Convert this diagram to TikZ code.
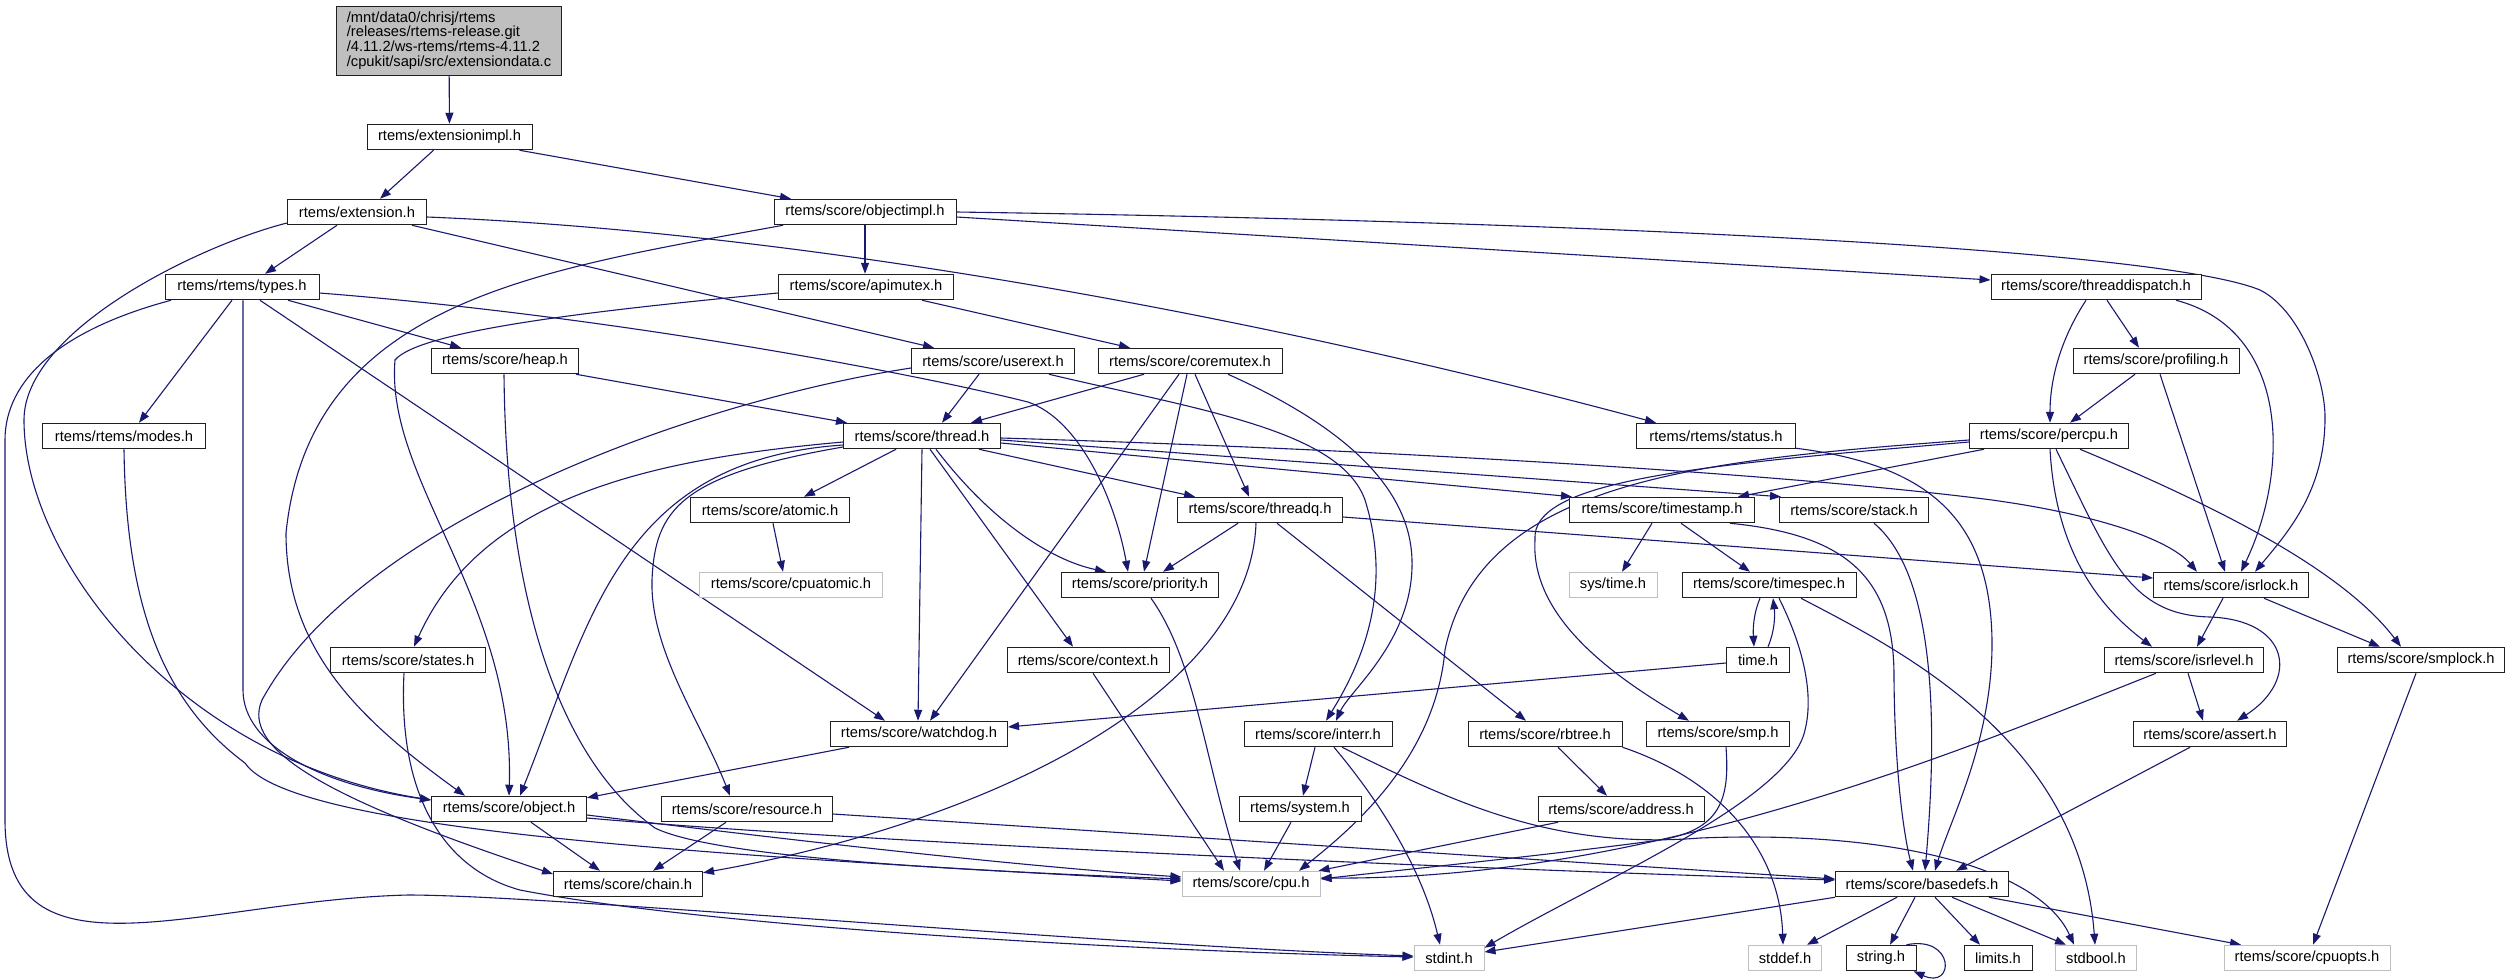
\documentclass[tikz,border=0pt]{standalone}
\usepackage{fontspec}
\setmainfont{Liberation Sans}
\usetikzlibrary{arrows.meta,backgrounds}
\definecolor{edgeblue}{HTML}{191970}
\definecolor{rootgray}{HTML}{BFBFBF}
\definecolor{lightborder}{HTML}{BFBFBF}
\definecolor{nodeborder}{HTML}{202020}
\tikzset{
  box/.style={draw=nodeborder, line width=1pt, fill=white, minimum height=25.5pt, inner xsep=10pt, inner ysep=0pt, font=\fontsize{14.7pt}{14.8pt}\selectfont},
  graybox/.style={box, draw=lightborder},
  dep/.style={draw=edgeblue, line width=1.1pt, -{Triangle[length=11pt,width=8pt]}},
}
\begin{document}
\begin{tikzpicture}[x=1pt,y=-1pt]
\useasboundingbox (0,0) rectangle (2513,978);
% nodes
\node[box, fill=rootgray, align=left, minimum width=222pt, minimum height=69pt] (root) at (449,40.5) {/mnt/data0/chrisj/rtems\\/releases/rtems-release.git\\/4.11.2/ws-rtems/rtems-4.11.2\\/cpukit/sapi/src/extensiondata.c};
\node[box, minimum width=165pt] (extimpl) at (449.5,137) {rtems/extensionimpl.h};
\node[box, minimum width=139pt] (ext) at (357,212) {rtems/extension.h};
\node[box, minimum width=182pt] (objimpl) at (865,212) {rtems/score/objectimpl.h};
\node[box, minimum width=154pt] (types) at (242,287) {rtems/rtems/types.h};
\node[box, minimum width=175pt] (apimutex) at (866,287) {rtems/score/apimutex.h};
\node[box, minimum width=210pt] (tdisp) at (2096,287) {rtems/score/threaddispatch.h};
\node[box, minimum width=147pt] (heap) at (505,361) {rtems/score/heap.h};
\node[box, minimum width=163pt] (userext) at (993,361) {rtems/score/userext.h};
\node[box, minimum width=184pt] (coremutex) at (1190,361) {rtems/score/coremutex.h};
\node[box, minimum width=166pt] (profiling) at (2156,361) {rtems/score/profiling.h};
\node[box, minimum width=163pt] (modes) at (124,436) {rtems/rtems/modes.h};
\node[box, minimum width=157pt] (thread) at (922,436) {rtems/score/thread.h};
\node[box, minimum width=159pt] (status) at (1716,436) {rtems/rtems/status.h};
\node[box, minimum width=159pt] (percpu) at (2049,436) {rtems/score/percpu.h};
\node[box, minimum width=159pt] (atomic) at (770,510) {rtems/score/atomic.h};
\node[box, minimum width=165pt] (threadq) at (1260,510) {rtems/score/threadq.h};
\node[box, minimum width=185pt] (timestamp) at (1662,510) {rtems/score/timestamp.h};
\node[box, minimum width=149pt] (stack) at (1854,510) {rtems/score/stack.h};
\node[graybox, minimum width=183pt] (cpuatomic) at (791,585) {rtems/score/cpuatomic.h};
\node[box, minimum width=157pt] (priority) at (1140,585) {rtems/score/priority.h};
\node[graybox, minimum width=88pt] (systime) at (1613,585) {sys/time.h};
\node[box, minimum width=174pt] (timespec) at (1769,585) {rtems/score/timespec.h};
\node[box, minimum width=154pt] (isrlock) at (2231,585) {rtems/score/isrlock.h};
\node[box, minimum width=155pt] (states) at (408,660) {rtems/score/states.h};
\node[box, minimum width=162pt] (context) at (1088,660) {rtems/score/context.h};
\node[box, minimum width=63pt] (timeh) at (1758,660) {time.h};
\node[box, minimum width=158pt] (isrlevel) at (2184,660) {rtems/score/isrlevel.h};
\node[box, minimum width=167pt] (smplock) at (2421,660) {rtems/score/smplock.h};
\node[box, minimum width=177pt] (watchdog) at (919,734) {rtems/score/watchdog.h};
\node[box, minimum width=148pt] (interr) at (1318,734) {rtems/score/interr.h};
\node[box, minimum width=154pt] (rbtree) at (1545,734) {rtems/score/rbtree.h};
\node[box, minimum width=143pt] (smp) at (1718,734) {rtems/score/smp.h};
\node[box, minimum width=153pt] (assert) at (2210,734) {rtems/score/assert.h};
\node[box, minimum width=155pt] (object) at (509,809) {rtems/score/object.h};
\node[box, minimum width=171pt] (resource) at (747,809) {rtems/score/resource.h};
\node[box, minimum width=122pt] (system) at (1300,809) {rtems/system.h};
\node[box, minimum width=166pt] (address) at (1621,809) {rtems/score/address.h};
\node[box, minimum width=149pt] (chain) at (628,884) {rtems/score/chain.h};
\node[graybox, minimum width=138pt] (cpu) at (1251,884) {rtems/score/cpu.h};
\node[box, minimum width=172pt] (basedefs) at (1922,884) {rtems/score/basedefs.h};
\node[graybox, minimum width=70pt] (stdint) at (1449,958) {stdint.h};
\node[graybox, minimum width=72pt] (stddef) at (1785,958) {stddef.h};
\node[box, minimum width=70pt] (string) at (1881,958) {string.h};
\node[box, minimum width=68pt] (limits) at (1998,958) {limits.h};
\node[graybox, minimum width=81pt] (stdbool) at (2096,958) {stdbool.h};
\node[graybox, minimum width=166pt] (cpuopts) at (2307,958) {rtems/score/cpuopts.h};
\begin{pgfonlayer}{background}
\fill[white] (0,0) rectangle (2513,978);
% root / extension
\draw[dep] (root) -- (extimpl);
\draw[dep] ([xshift=-16pt]extimpl.south) -- ([xshift=23pt]ext.north);
\draw[dep] ([xshift=70pt]extimpl.south) -- ([xshift=-74pt]objimpl.north);
\draw[dep] ([xshift=-20pt]ext.south) -- ([xshift=23pt]types.north);
\draw[dep] ([xshift=55pt]ext.south) -- ([xshift=-59pt]userext.north);
\draw[dep] ([yshift=-5pt]ext.east) .. controls (800,232) and (1256,315) .. ([xshift=-60pt]status.north);
\draw[dep] ([yshift=-11pt]ext.west) .. controls (200,245) and (24,330) .. (24,420) .. controls (24,560) and (180,760) .. ([yshift=9pt]object.west);
% types
\draw[dep] ([xshift=-10pt]types.south) -- ([xshift=15pt]modes.north);
\draw[dep] ([xshift=1pt]types.south) -- (243,690) .. controls (243,745) and (320,785) .. ([yshift=9pt]object.west);
\draw[dep] ([xshift=18pt]types.south) -- ([xshift=-34pt]watchdog.north);
\draw[dep] ([xshift=46pt]types.south) -- ([xshift=-44pt]heap.north);
\draw[dep] ([yshift=-6pt]types.east) .. controls (600,315) and (900,370) .. (1028,402) .. controls (1080,420) and (1115,500) .. ([xshift=-12pt]priority.north);
\draw[dep] ([xshift=-71pt]types.south) .. controls (60,330) and (5,380) .. (5,440) -- (5,820) .. controls (5,990) and (200,900) .. (408,895) .. controls (550,895) and (1100,945) .. ([yshift=2pt]stdint.west);
\draw[dep] ([xshift=-4pt]states.south) .. controls (398,790) and (440,868) .. (520,890) .. controls (700,925) and (1100,950) .. ([yshift=1pt]stdint.west);
% heap, modes
\draw[dep] ([xshift=-3pt]heap.south east) -- ([xshift=4pt]thread.north west);
\draw[dep] ([xshift=-1pt]heap.south) .. controls (506,600) and (560,760) .. (655,828) .. controls (720,860) and (1000,872) .. ([yshift=5pt]cpu.west);
\draw[dep] (modes.south) .. controls (126,600) and (160,700) .. (245,763) .. controls (290,830) and (700,855) .. ([yshift=3pt]cpu.west);
% object, resource
\draw[dep] ([xshift=22pt]object.south) -- ([xshift=-28pt]chain.north);
\draw[dep] ([yshift=-6pt]object.east) .. controls (750,835) and (1000,865) .. ([yshift=7pt]cpu.west);
\draw[dep] ([yshift=-9pt]object.east) .. controls (900,845) and (1500,870) .. ([yshift=4pt]basedefs.west);
\draw[dep] ([yshift=-5pt]resource.east) -- ([yshift=5pt]basedefs.west);
\draw[dep] ([xshift=-21pt]resource.south) -- ([xshift=25pt]chain.north);
% userext
\draw[dep] ([yshift=-7pt]userext.west) .. controls (700,400) and (360,520) .. (262,700) .. controls (240,750) and (330,800) .. ([yshift=10pt]chain.west);
\draw[dep] ([xshift=-14pt]userext.south) -- ([xshift=20pt]thread.north);
\draw[dep] ([xshift=56pt]userext.south) .. controls (1200,410) and (1340,430) .. (1365,500) .. controls (1390,580) and (1370,650) .. ([xshift=8pt]interr.north);
% coremutex, apimutex
\draw[dep] ([xshift=-46pt]coremutex.south) -- ([xshift=49pt]thread.north);
\draw[dep] ([xshift=-11pt]coremutex.south) -- ([xshift=11pt]watchdog.north);
\draw[dep] ([xshift=-3pt]coremutex.south) -- ([xshift=4pt]priority.north);
\draw[dep] ([xshift=5pt]coremutex.south) -- ([xshift=-11pt]threadq.north);
\draw[dep] ([xshift=38pt]coremutex.south) .. controls (1330,420) and (1410,480) .. (1412,560) .. controls (1414,640) and (1350,690) .. ([xshift=18pt]interr.north);
\draw[dep] ([xshift=56pt]apimutex.south) -- ([xshift=-60pt]coremutex.north);
\draw[dep] ([yshift=-6pt]apimutex.west) .. controls (600,310) and (420,330) .. (395,360) .. controls (385,480) and (515,600) .. (object.north);
% objimpl
\draw[dep] (objimpl.south) -- ([xshift=-1pt]apimutex.north);
\draw[dep] ([xshift=-82pt]objimpl.south) .. controls (540,270) and (310,300) .. (286,533) .. controls (286,650) and (360,720) .. ([xshift=-44pt]object.north);
\draw[dep] ([yshift=-5pt]objimpl.east) -- ([yshift=7pt]tdisp.west);
\draw[dep] (objimpl.east) .. controls (1500,220) and (2150,245) .. (2260,290) .. controls (2300,310) and (2326,380) .. (2325,420) .. controls (2324,490) and (2290,530) .. ([xshift=24pt]isrlock.north);
% thread
\draw[dep] ([yshift=-6pt]thread.west) .. controls (640,460) and (480,500) .. ([xshift=6pt]states.north);
\draw[dep] ([yshift=-9pt]thread.west) .. controls (620,460) and (590,620) .. ([xshift=11pt]object.north);
\draw[dep] ([yshift=-11pt]thread.west) .. controls (680,475) and (655,510) .. (652,580) .. controls (650,650) and (700,720) .. ([xshift=-17pt]resource.north);
\draw[dep] ([xshift=-26pt]thread.south) -- ([xshift=34pt]atomic.north);
\draw[dep] (thread.south) -- ([xshift=-1pt]watchdog.north);
\draw[dep] ([xshift=8pt]thread.south) -- ([xshift=-15pt]context.north);
\draw[dep] ([xshift=14pt]thread.south) .. controls (990,520) and (1050,560) .. ([xshift=-34pt]priority.north);
\draw[dep] ([xshift=57pt]thread.south) -- ([xshift=-65pt]threadq.north);
\draw[dep] ([yshift=-7pt]thread.east) -- ([xshift=3pt]timestamp.north west);
\draw[dep] ([yshift=-4pt]thread.east) -- ([xshift=2pt]stack.north west);
\draw[dep] ([yshift=-2pt]thread.east) .. controls (1400,450) and (1800,475) .. (1992,500) .. controls (2100,515) and (2170,540) .. ([xshift=-34pt]isrlock.north);
% threadq
\draw[dep] ([xshift=-22pt]threadq.south) -- ([xshift=23pt]priority.north);
\draw[dep] ([yshift=-7pt]threadq.east) -- ([yshift=7pt]isrlock.west);
\draw[dep] ([xshift=17pt]threadq.south) -- ([xshift=-19pt]rbtree.north);
\draw[dep] ([xshift=-4pt]threadq.south) .. controls (1250,690) and (1000,820) .. ([yshift=-2pt]chain.north east);
% timestamp, stack, status
\draw[dep] ([xshift=-10pt]timestamp.south) -- ([xshift=9pt]systime.north);
\draw[dep] ([xshift=19pt]timestamp.south) -- ([xshift=-19pt]timespec.north);
\draw[dep] ([xshift=68pt]timestamp.south) .. controls (1850,535) and (1895,580) .. (1894,680) .. controls (1895,780) and (1905,840) .. ([xshift=-9pt]basedefs.north);
\draw[dep] ([xshift=20pt]stack.south) .. controls (1930,570) and (1940,700) .. ([xshift=3pt]basedefs.north);
\draw[dep] ([yshift=1pt]status.south east) .. controls (1930,465) and (1990,520) .. (1992,640) .. controls (1993,740) and (1950,820) .. ([xshift=13pt]basedefs.north);
% percpu
\draw[dep] ([yshift=-4pt]percpu.west) .. controls (1700,460) and (1480,480) .. (1445,650) .. controls (1435,760) and (1350,830) .. ([xshift=48pt]cpu.north);
\draw[dep] ([yshift=-6pt]percpu.west) .. controls (1700,465) and (1530,480) .. (1535,540) .. controls (1530,620) and (1620,680) .. ([xshift=-29pt]smp.north);
\draw[dep] ([xshift=-65pt]percpu.south) -- ([xshift=76pt]timestamp.north);
\draw[dep] ([xshift=1pt]percpu.south) .. controls (2055,540) and (2090,600) .. ([xshift=-32pt]isrlevel.north);
\draw[dep] ([xshift=7pt]percpu.south) .. controls (2110,560) and (2130,615) .. (2210,617) .. controls (2290,620) and (2300,680) .. ([xshift=27pt]assert.north);
\draw[dep] ([xshift=31pt]percpu.south) .. controls (2250,520) and (2350,580) .. ([xshift=-20pt]smplock.north);
% profiling, threaddispatch
\draw[dep] ([xshift=-21pt]profiling.south) -- ([xshift=21pt]percpu.north);
\draw[dep] ([xshift=4pt]profiling.south) -- ([xshift=-6pt]isrlock.north);
\draw[dep] ([xshift=-10pt]tdisp.south) .. controls (2060,340) and (2050,380) .. ([xshift=1pt]percpu.north);
\draw[dep] ([xshift=11pt]tdisp.south) -- ([xshift=-17pt]profiling.north);
\draw[dep] ([xshift=80pt]tdisp.south) .. controls (2290,330) and (2290,470) .. ([xshift=10pt]isrlock.north);
% isrlock, isrlevel, smplock, assert
\draw[dep] ([xshift=-8pt]isrlock.south) -- ([xshift=13pt]isrlevel.north);
\draw[dep] ([xshift=33pt]isrlock.south) -- ([xshift=-41pt]smplock.north);
\draw[dep] ([xshift=4pt]isrlevel.south) -- ([xshift=-7pt]assert.north);
\draw[dep] ([xshift=-28pt]isrlevel.south) .. controls (1950,755) and (1650,880) .. ([yshift=6pt]cpu.east);
\draw[dep] ([xshift=-20pt]assert.south) -- ([xshift=34pt]basedefs.north);
\draw[dep] ([xshift=-5pt]smplock.south) -- ([xshift=6pt]cpuopts.north);
% smp, address, rbtree, interr, system
\draw[dep] ([xshift=8pt]smp.south) .. controls (1730,800) and (1720,830) .. (1660,840) .. controls (1550,855) and (1400,870) .. ([yshift=5pt]cpu.east);
\draw[dep] ([xshift=-63pt]address.south) -- ([xshift=-2pt]cpu.north east);
\draw[dep] ([xshift=13pt]rbtree.south) -- ([xshift=-14pt]address.north);
\draw[dep] (rbtree.south east) .. controls (1720,780) and (1780,850) .. ([xshift=-2pt]stddef.north);
\draw[dep] ([xshift=-3pt]interr.south) -- ([xshift=3pt]system.north);
\draw[dep] ([xshift=16pt]interr.south) .. controls (1370,790) and (1420,860) .. ([xshift=-9pt]stdint.north);
\draw[dep] ([xshift=24pt]interr.south) .. controls (1450,800) and (1550,850) .. (1700,838) .. controls (1900,830) and (2040,870) .. ([xshift=-22pt]stdbool.north);
\draw[dep] ([xshift=-9pt]system.south) -- ([xshift=13pt]cpu.north);
% watchdog, time
\draw[dep] ([xshift=-70pt]watchdog.south) -- ([yshift=-2pt]object.north east);
\draw[dep] ([yshift=-3pt]timeh.west) -- ([yshift=7pt]watchdog.east);
\draw[dep] ([xshift=-9pt]timespec.south) .. controls (1753,615) and (1753,630) .. ([xshift=-4pt]timeh.north);
\draw[dep] ([xshift=10pt]timeh.north) .. controls (1775,630) and (1775,615) .. ([xshift=4pt]timespec.south);
\draw[dep] ([xshift=10pt]timespec.south) .. controls (1800,640) and (1815,690) .. (1805,730) .. controls (1790,800) and (1600,880) .. ([yshift=-3pt]stdint.north east);
\draw[dep] ([xshift=32pt]timespec.south) .. controls (1900,650) and (2080,740) .. ([xshift=-1pt]stdbool.north);
% basedefs
\draw[dep] (basedefs.south west) -- ([yshift=6pt]stdint.east);
\draw[dep] ([xshift=-25pt]basedefs.south) -- ([xshift=22pt]stddef.north);
\draw[dep] ([xshift=-7pt]basedefs.south) -- ([xshift=9pt]string.north);
\draw[dep] ([xshift=13pt]basedefs.south) -- ([xshift=-18pt]limits.north);
\draw[dep] ([xshift=30pt]basedefs.south) -- ([xshift=-30pt]stdbool.north);
\draw[dep] ([xshift=-20pt]basedefs.south east) -- ([xshift=-66pt]cpuopts.north);
\draw[dep] ([xshift=-10pt]string.north east) .. controls (1955,935) and (1955,990) .. ([xshift=-3pt]string.south east);
% context, priority, atomic
\draw[dep] ([xshift=5pt]context.south) -- ([xshift=-27pt]cpu.north);
\draw[dep] ([xshift=11pt]priority.south) .. controls (1195,660) and (1205,760) .. ([xshift=-11pt]cpu.north);
\draw[dep] ([xshift=3pt]atomic.south) -- ([xshift=-8pt]cpuatomic.north);
\end{pgfonlayer}
\end{tikzpicture}
\end{document}
